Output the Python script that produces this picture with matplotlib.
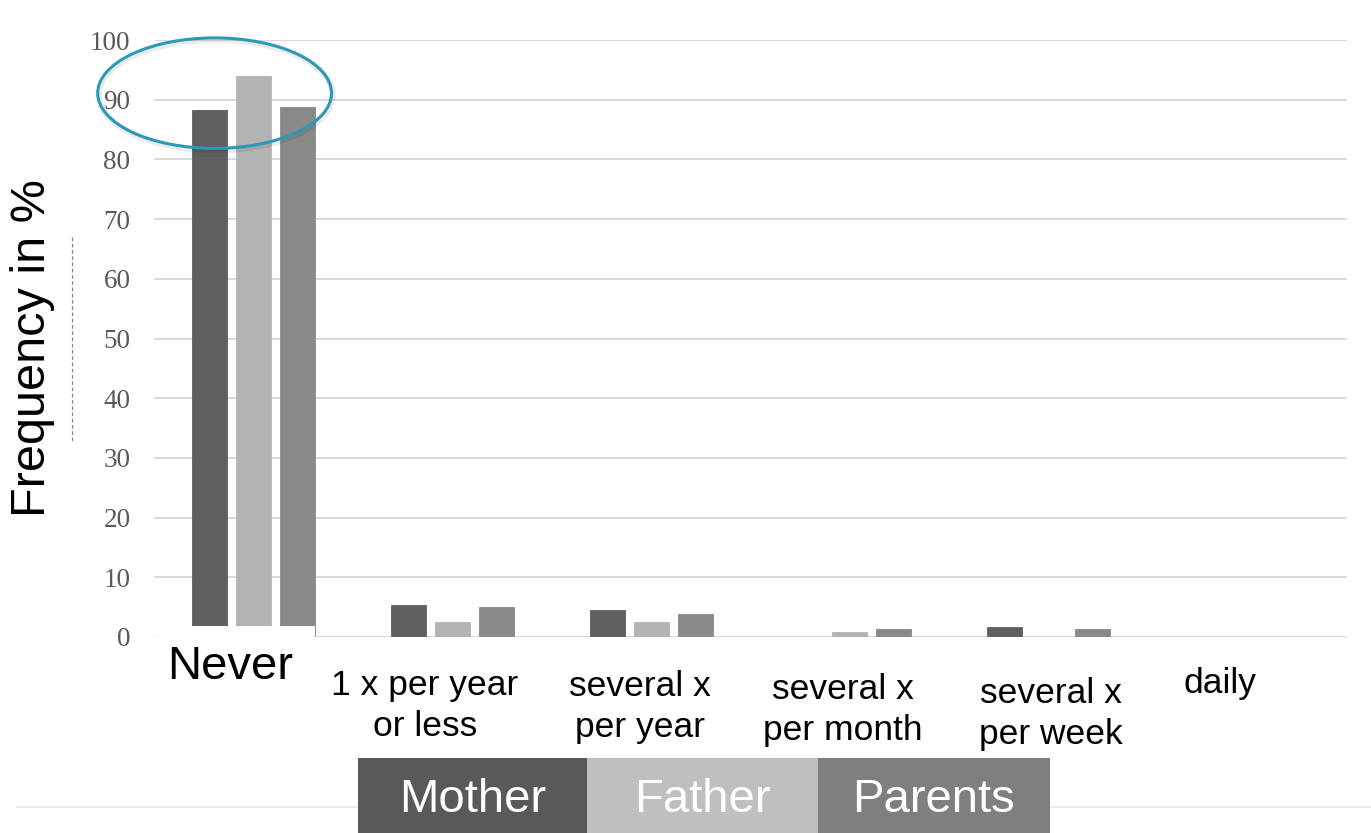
import numpy as np
import matplotlib
matplotlib.use("Agg")
import matplotlib.pyplot as plt
from matplotlib.patches import Ellipse, Rectangle
from matplotlib.lines import Line2D

# Frequency of contact (%) by person
categories = ["Never", "1 x per year\nor less", "several x\nper year",
              "several x\nper month", "several x\nper week", "daily"]
series_names = ["Mother", "Father", "Parents"]
mother = [88.3, 5.4, 4.6, 0.0, 1.7, 0.0]
father = [94.0, 2.5, 2.5, 0.8, 0.0, 0.0]
parents = [88.7, 5.0, 3.8, 1.3, 1.3, 0.0]
y_ticks = [0, 10, 20, 30, 40, 50, 60, 70, 80, 90, 100]

colors = ["#5f5f5f", "#b3b3b3", "#898989"]
legend_colors = ["#595959", "#bfbfbf", "#7f7f7f"]

W, H = 1371, 833
fig = plt.figure(figsize=(W / 100, H / 100), dpi=100)
fig.patch.set_facecolor("white")

def fx(px):
    return px / W

def fy(py):
    return 1 - py / H

ax = fig.add_axes([fx(154), fy(637), (1347 - 154) / W, (637 - 40) / H])
x = np.arange(len(categories))
bw = 0.176
step = 0.221
for i, (vals, c) in enumerate(zip([mother, father, parents], colors)):
    ax.bar(x + (i - 1) * step, vals, width=bw, color=c, zorder=3,
           edgecolor=c, linewidth=0.6)

ax.set_xlim(-0.5, len(categories) - 0.5)
ax.set_ylim(0, 100)
ax.set_yticks(y_ticks)
ax.set_yticklabels([str(t) for t in y_ticks],
                   fontfamily=["Liberation Serif", "DejaVu Serif"],
                   fontsize=19.5, color="#595959")
ax.tick_params(axis="y", length=0, pad=17)
ax.set_xticks([])
ax.grid(axis="y", color="#d9d9d9", linewidth=1.4, zorder=0)
for s in ax.spines.values():
    s.set_visible(False)

# Highlight around the "Never" group, with a soft shadow
shadow = Ellipse((-0.19, 90.8), width=1.176, height=18.5, fill=False,
                 edgecolor="#000000", alpha=0.08, linewidth=4.5, zorder=4,
                 clip_on=False)
ax.add_patch(shadow)
ell = Ellipse((-0.195, 91.1), width=1.176, height=18.5, fill=False,
              edgecolor="#2a9ab8", linewidth=2.2, zorder=5, clip_on=False)
ax.add_patch(ell)

sans = ["Liberation Sans", "DejaVu Sans"]

# Y axis title
fig.text(fx(33), fy(348), "Frequency in %", rotation=90, ha="center",
         va="center", fontsize=35, family=sans, color="black")

# thin dashed guide next to the axis title
fig.add_artist(Line2D([fx(72), fx(72)], [fy(237), fy(443)],
                      color="#6d87b5", linewidth=0.9, linestyle=(0, (3, 2))))

# white box behind the first category label
fig.add_artist(Rectangle((fx(155), fy(700)), (315 - 155) / W, (700 - 625.5) / H,
                         facecolor="white", edgecolor="none", zorder=10))
fig.text(fx(230), fy(667), categories[0], ha="center", va="center",
         fontsize=34, family=sans, color="black", zorder=11)

# remaining category labels
label_pos = [(425, 706), (640, 707), (843, 710), (1051, 714), (1220, 684)]
for lab, (px, py) in zip(categories[1:], label_pos):
    fig.text(fx(px), fy(py), lab, ha="center", va="center",
             multialignment="center", fontsize=25.5, family=sans,
             color="black", linespacing=1.3)

# faint rule under the chart
fig.add_artist(Line2D([fx(17), fx(1371)], [fy(807), fy(807)],
                      color="#e8e8e8", linewidth=1.2))

# legend blocks
edges = [358, 587, 818, 1050]
for i, name in enumerate(series_names):
    x0, x1 = edges[i], edges[i + 1]
    fig.add_artist(Rectangle((fx(x0), 0), (x1 - x0) / W, (833 - 758) / H,
                             facecolor=legend_colors[i], edgecolor="none",
                             zorder=10))
    fig.text(fx((x0 + x1) / 2), fy(800), name, ha="center", va="center",
             fontsize=34, family=sans, color="white", zorder=11)

fig.savefig("out.png", dpi=100, facecolor="white")
